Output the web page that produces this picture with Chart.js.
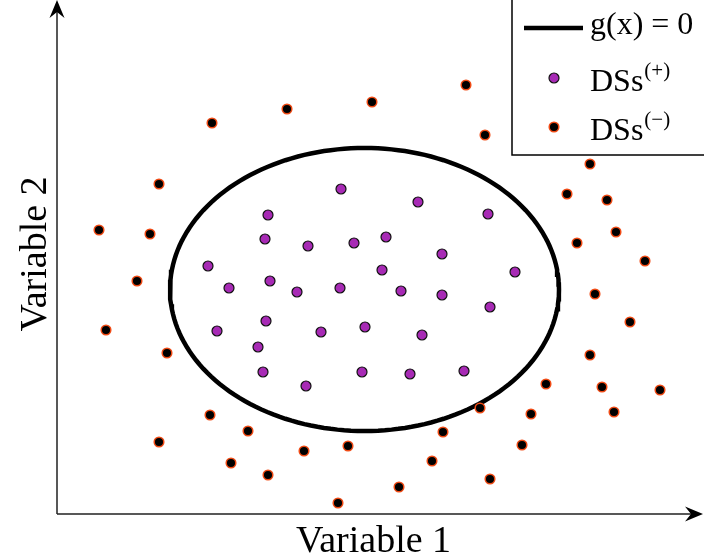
<!DOCTYPE html>
<html lang="en">
<head>
<meta charset="UTF-8">
<title>DSs and g(x) = 0</title>
<script src="https://cdn.jsdelivr.net/npm/chart.js"></script>
<style>
  html, body { margin: 0; padding: 0; background: #fff; }
</style>
</head>
<body>
<canvas id="dsChart" width="704" height="560"></canvas>
<script>
  // DSs(+) : points inside the boundary
  const plusX = [284, 361, 211, 431, 208, 251, 297, 329, 385, 151, 325, 458, 172, 213, 240,
                 283, 344, 385, 433, 209, 160, 264, 308, 365, 201, 206, 249, 305, 353, 407];
  const plusY = [325, 312, 299, 300, 275, 268, 271, 277, 260, 248, 244, 242, 226, 233, 222,
                 226, 223, 219, 207, 193, 183, 182, 187, 179, 167, 142, 128, 142, 140, 143];

  // DSs(-) : points outside the boundary
  const minusX = [42, 93, 102, 155, 230, 315, 409, 428, 80, 49, 110,
                  533, 510, 550, 559, 520, 588, 538, 573, 533,
                  489, 545, 603, 423, 474, 557, 386, 465, 375, 342, 433,
                  102, 153, 191, 174, 211, 247, 281, 291];
  const minusY = [284, 280, 330, 391, 405, 412, 429, 379, 233, 184, 161,
                  350, 320, 314, 282, 271, 253, 220, 192, 159,
                  130, 127, 124, 106, 100, 102, 82, 69, 53, 27, 35,
                  72, 99, 83, 51, 39, 63, 11, 68];

  // g(x) = 0 : elliptical boundary (centre and half-axes, data units)
  const ellipseCenter = [307.5, 224.5];
  const ellipseRadii = [194.5, 141.5];

  const axisMax = [647, 514];
  const axisTitles = ['Variable 1', 'Variable 2'];
  const seriesLabels = ['g(x) = 0', 'DSs', 'DSs'];
  const seriesSup = ['', '(+)', '(\u2212)'];

  const SERIF = '"Liberation Serif", "DejaVu Serif", serif';

  const boundary = [];
  for (let i = 0; i <= 180; i++) {
    const t = 2 * Math.PI * i / 180;
    boundary.push({
      x: ellipseCenter[0] + ellipseRadii[0] * Math.cos(t),
      y: ellipseCenter[1] + ellipseRadii[1] * Math.sin(t)
    });
  }

  const toPoints = (xs, ys) => xs.map((x, i) => ({ x: x, y: ys[i] }));

  function arrowHead(ctx, tipX, tipY, dx, dy) {
    // dx,dy : unit vector pointing along the arrow
    const len = 18, half = 7.5, notch = 12;
    const px = -dy, py = dx;
    ctx.beginPath();
    ctx.moveTo(tipX, tipY);
    ctx.lineTo(tipX - dx * len + px * half, tipY - dy * len + py * half);
    ctx.lineTo(tipX - dx * notch, tipY - dy * notch);
    ctx.lineTo(tipX - dx * len - px * half, tipY - dy * len - py * half);
    ctx.closePath();
    ctx.fill();
  }

  const decorations = {
    id: 'decorations',
    afterDraw(chart) {
      const ctx = chart.ctx;
      const a = chart.chartArea;
      const ds = chart.data.datasets;
      ctx.save();

      // axes with arrows
      ctx.strokeStyle = '#222';
      ctx.fillStyle = '#000';
      ctx.lineWidth = 1.5;
      ctx.beginPath();
      ctx.moveTo(a.left, a.bottom);
      ctx.lineTo(a.right - 8, a.bottom);
      ctx.moveTo(a.left, a.bottom);
      ctx.lineTo(a.left, a.top + 8);
      ctx.stroke();
      arrowHead(ctx, a.right - 1, a.bottom, 1, 0);
      arrowHead(ctx, a.left, a.top, 0, -1);

      // axis titles
      ctx.font = '38px ' + SERIF;
      ctx.textAlign = 'center';
      ctx.textBaseline = 'alphabetic';
      ctx.fillText(axisTitles[0], (a.left + a.right) / 2 - 7, a.bottom + 38);
      ctx.save();
      ctx.translate(a.left - 11, (a.top + a.bottom) / 2 - 3);
      ctx.rotate(-Math.PI / 2);
      ctx.fillText(axisTitles[1], 0, 0);
      ctx.restore();

      // legend
      const bx = 512, by = -1, bw = 200, bh = 156;
      ctx.fillStyle = '#fff';
      ctx.fillRect(bx, by, bw, bh);
      ctx.strokeStyle = '#000';
      ctx.lineWidth = 1.5;
      ctx.strokeRect(bx, by, bw, bh);

      const rows = [28, 78, 127];
      const markX = 554, textX = 590;
      rows.forEach((ry, i) => {
        const d = ds[i];
        if (i === 0) {
          ctx.strokeStyle = d.borderColor;
          ctx.lineWidth = d.borderWidth;
          ctx.beginPath();
          ctx.moveTo(524, ry);
          ctx.lineTo(583, ry);
          ctx.stroke();
        } else {
          ctx.beginPath();
          ctx.arc(markX, ry, d.pointRadius, 0, 2 * Math.PI);
          ctx.fillStyle = d.backgroundColor;
          ctx.fill();
          ctx.strokeStyle = d.borderColor;
          ctx.lineWidth = d.borderWidth;
          ctx.stroke();
        }
        ctx.fillStyle = '#000';
        ctx.textAlign = 'left';
        const base = i === 0 ? ry + 6 : ry + 13;
        ctx.font = '32px ' + SERIF;
        ctx.fillText(seriesLabels[i], textX, base);
        if (seriesSup[i]) {
          const w = ctx.measureText(seriesLabels[i]).width;
          ctx.font = '21px ' + SERIF;
          ctx.fillText(seriesSup[i], textX + w + 1, base - 14);
        }
      });
      ctx.restore();
    }
  };

  new Chart(document.getElementById('dsChart'), {
    type: 'scatter',
    data: {
      datasets: [
        {
          label: seriesLabels[0],
          data: boundary,
          showLine: true,
          borderColor: '#000',
          borderWidth: 4.5,
          pointRadius: 0,
          tension: 0,
          order: 3
        },
        {
          label: seriesLabels[1] + seriesSup[1],
          data: toPoints(plusX, plusY),
          backgroundColor: '#a72ab5',
          borderColor: '#111',
          borderWidth: 1.2,
          pointRadius: 5,
          order: 1
        },
        {
          label: seriesLabels[2] + seriesSup[2],
          data: toPoints(minusX, minusY),
          backgroundColor: '#000',
          borderColor: '#f04a14',
          borderWidth: 1.5,
          pointRadius: 4.8,
          order: 2
        }
      ]
    },
    options: {
      responsive: false,
      animation: false,
      clip: false,
      layout: { autoPadding: false, padding: { left: 57, right: 0, top: 0, bottom: 46 } },
      plugins: {
        legend: { display: false },
        tooltip: { enabled: false }
      },
      scales: {
        x: { type: 'linear', min: 0, max: axisMax[0], display: false },
        y: { type: 'linear', min: 0, max: axisMax[1], display: false }
      }
    },
    plugins: [decorations]
  });
</script>
</body>
</html>
